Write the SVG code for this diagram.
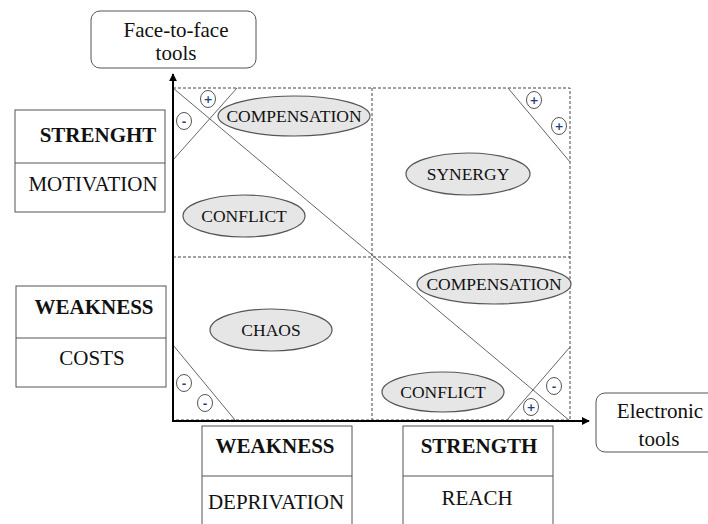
<svg xmlns="http://www.w3.org/2000/svg" width="708" height="524" viewBox="0 0 708 524" font-family="'Liberation Serif', 'DejaVu Serif', serif">
<defs>
<marker id="ah" viewBox="0 0 10 10" refX="9" refY="5" markerWidth="8" markerHeight="8" markerUnits="userSpaceOnUse" orient="auto">
<path d="M0,0 L10,5 L0,10 z" fill="#000"/>
</marker>
</defs>
<style>
text{fill:#111;text-anchor:middle}
.lbl{font-size:17.5px}
.box{fill:#fff;stroke:#555;stroke-width:1}
.hd{font-size:21px;font-weight:bold}
.bt{font-size:21px}
.ell{fill:#e6e6e6;stroke:#555;stroke-width:1.2}
.grid{fill:none;stroke:#444;stroke-width:1;stroke-dasharray:3,2}
.ln{stroke:#666;stroke-width:1;fill:none}
.sc{fill:#fff;stroke:#555;stroke-width:1}
.sg{font-size:11px;font-weight:bold;fill:#1f3f7f}
.ax{stroke:#000;stroke-width:2;fill:none}
</style>
<rect width="708" height="524" fill="#fff"/>

<g id="grid">
<rect class="grid" x="173" y="88" width="397" height="332"/>
<line class="grid" x1="372" y1="88" x2="372" y2="420"/>
<line class="grid" x1="173" y1="257" x2="570" y2="257"/>
</g>

<g id="connectors">
<line class="ln" x1="173" y1="88" x2="570" y2="421"/>
<line class="ln" x1="173" y1="160" x2="237" y2="88"/>
<line class="ln" x1="508" y1="88" x2="570" y2="162"/>
<line class="ln" x1="173" y1="345" x2="235" y2="420"/>
<line class="ln" x1="507" y1="420" x2="570" y2="347"/>
<line class="ax" x1="173" y1="421" x2="173" y2="74" marker-end="url(#ah)"/>
<line class="ax" x1="172" y1="421" x2="589" y2="421" marker-end="url(#ah)"/>
</g>

<g id="signs" font-family="'DejaVu Sans', sans-serif">
<ellipse class="sc" cx="208" cy="99" rx="7.5" ry="8.5"/><text class="sg" x="208" y="103">+</text>
<ellipse class="sc" cx="184" cy="121" rx="7.5" ry="8.5"/><text class="sg" x="184" y="125">-</text>
<ellipse class="sc" cx="534" cy="100" rx="7.5" ry="8.5"/><text class="sg" x="534" y="104">+</text>
<ellipse class="sc" cx="559" cy="126" rx="7.5" ry="8.5"/><text class="sg" x="559" y="130">+</text>
<ellipse class="sc" cx="184" cy="383" rx="7.5" ry="8.5"/><text class="sg" x="184" y="387">-</text>
<ellipse class="sc" cx="205" cy="403" rx="7.5" ry="8.5"/><text class="sg" x="205" y="407">-</text>
<ellipse class="sc" cx="531" cy="407" rx="7.5" ry="8.5"/><text class="sg" x="531" y="411">+</text>
<ellipse class="sc" cx="554" cy="386" rx="7.5" ry="8.5"/><text class="sg" x="554" y="390">-</text>
</g>

<g id="compensation-top"><ellipse class="ell" cx="294" cy="116" rx="76" ry="20"/><text class="lbl" x="294" y="122">COMPENSATION</text></g>
<g id="conflict-top"><ellipse class="ell" cx="244" cy="216" rx="61" ry="21"/><text class="lbl" x="244" y="222">CONFLICT</text></g>
<g id="synergy"><ellipse class="ell" cx="468" cy="174" rx="62" ry="21"/><text class="lbl" x="468" y="180">SYNERGY</text></g>
<g id="chaos"><ellipse class="ell" cx="271" cy="330" rx="61" ry="21"/><text class="lbl" x="271" y="336">CHAOS</text></g>
<g id="compensation-bottom"><ellipse class="ell" cx="494" cy="284" rx="77" ry="20"/><text class="lbl" x="494" y="290">COMPENSATION</text></g>
<g id="conflict-bottom"><ellipse class="ell" cx="443" cy="392" rx="61" ry="20"/><text class="lbl" x="443" y="398">CONFLICT</text></g>

<g id="face-to-face">
<rect class="box" x="91" y="11" width="165" height="57" rx="9"/>
<text class="bt" x="176" y="37">Face-to-face</text>
<text class="bt" x="176" y="60">tools</text>
</g>

<g id="electronic">
<rect class="box" x="596" y="393" width="125" height="59" rx="9"/>
<text class="bt" x="660" y="418">Electronic</text>
<text class="bt" x="659" y="446">tools</text>
</g>

<g id="strength-left">
<rect class="box" x="15" y="110" width="150" height="102"/>
<line class="box" x1="15" y1="163" x2="165" y2="163"/>
<text class="hd" x="98" y="142">STRENGHT</text>
<text class="bt" x="93" y="191">MOTIVATION</text>
</g>

<g id="weakness-left">
<rect class="box" x="16" y="286" width="150" height="101"/>
<line class="box" x1="16" y1="338" x2="166" y2="338"/>
<text class="hd" x="94" y="314">WEAKNESS</text>
<text class="bt" x="92" y="365">COSTS</text>
</g>

<g id="weakness-bottom">
<rect class="box" x="202" y="426" width="150" height="110"/>
<line class="box" x1="202" y1="476" x2="352" y2="476"/>
<text class="hd" x="275" y="453">WEAKNESS</text>
<text class="bt" x="276" y="509">DEPRIVATION</text>
</g>

<g id="strength-bottom">
<rect class="box" x="403" y="426" width="150" height="110"/>
<line class="box" x1="403" y1="476" x2="553" y2="476"/>
<text class="hd" x="479" y="453">STRENGTH</text>
<text class="bt" x="477" y="505">REACH</text>
</g>
</svg>
